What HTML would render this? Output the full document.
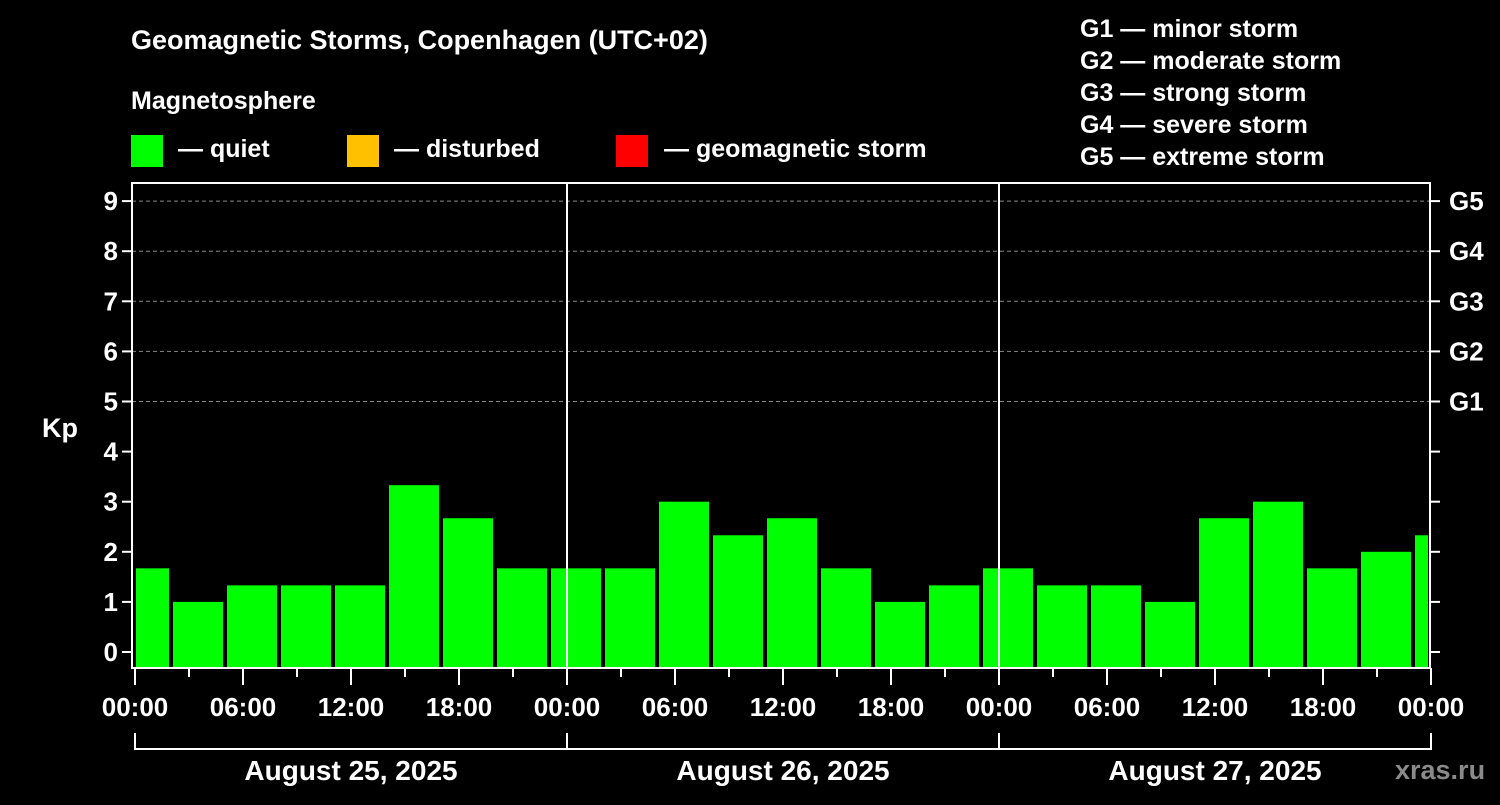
<!DOCTYPE html>
<html><head><meta charset="utf-8"><style>
html,body{margin:0;padding:0;background:#000;}
svg text{font-family:"Liberation Sans",sans-serif;font-weight:bold;fill:#fff;}
</style></head><body>
<svg id="chart" width="1500" height="800" xmlns="http://www.w3.org/2000/svg">
<rect width="1500" height="800" fill="#000"/>
<text x="131" y="49" font-size="27">Geomagnetic Storms, Copenhagen (UTC+02)</text>
<text x="131" y="109" font-size="25">Magnetosphere</text>
<g><rect x="131" y="135" width="32" height="32" fill="#00ff00"/><text x="178" y="157" font-size="25">— quiet</text></g>
<g><rect x="347" y="135" width="32" height="32" fill="#ffc000"/><text x="394" y="157" font-size="25">— disturbed</text></g>
<g><rect x="616" y="135" width="32" height="32" fill="#ff0000"/><text x="664" y="157" font-size="25">— geomagnetic storm</text></g>
<g font-size="25">
<text x="1080" y="37">G1 — minor storm</text>
<text x="1080" y="69">G2 — moderate storm</text>
<text x="1080" y="101">G3 — strong storm</text>
<text x="1080" y="133">G4 — severe storm</text>
<text x="1080" y="165">G5 — extreme storm</text>
</g>
<text x="42" y="437" font-size="27">Kp</text>
<text x="1395" y="779" font-size="27" fill="#888" style="fill:#8a8a8a">xras.ru</text>
<g id="plot"></g>
</svg>
<script>
const kpValues=[1.67,1,1.33,1.33,1.33,3.33,2.67,1.67,1.67,1.67,3,2.33,2.67,1.67,1,1.33,1.67,1.33,1.33,1,2.67,3,1.67,2,2.33];
const dayLabels=["August 25, 2025","August 26, 2025","August 27, 2025"];
const hourLabels=["00:00","06:00","12:00","18:00"];
const gLabels=["G1","G2","G3","G4","G5"];
const NS="http://www.w3.org/2000/svg";
const g=document.getElementById('plot');
const X0=135,HPX=18,Y0=652,KPX=50.1,L=132,R=1430,T=183,B=668;
const xh=h=>X0+h*HPX, yk=k=>Y0-k*KPX;
function mk(t,a){const e=document.createElementNS(NS,t);for(const k in a)e.setAttribute(k,a[k]);g.appendChild(e);return e;}
for(let k=5;k<=9;k++){const e=mk('line',{x1:L,x2:R,y1:yk(k),y2:yk(k),stroke:'#888','stroke-dasharray':'4,3','stroke-width':1});

}
kpValues.forEach((v,i)=>{let x1=xh(i*3-1)+2,x2=xh(i*3+2)-2;x1=Math.max(x1,X0+1);x2=Math.min(x2,R-2);
const e=mk('rect',{x:x1,y:yk(v),width:x2-x1,height:B-1-yk(v),fill:'#00ff00'});

});
for(let d=1;d<3;d++){const e=mk('line',{x1:xh(d*24),x2:xh(d*24),y1:T,y2:B,stroke:'#fff','stroke-width':2});

}
const fr=mk('path',{d:`M${L} ${T}H${R}V${B}H${L}Z`,fill:'none',stroke:'#fff','stroke-width':2});


for(let k=0;k<=9;k++){mk('line',{x1:L-10,x2:L,y1:yk(k),y2:yk(k),stroke:'#fff','stroke-width':2});
mk('line',{x1:R,x2:R+10,y1:yk(k),y2:yk(k),stroke:'#fff','stroke-width':2});
const t=mk('text',{x:118,y:yk(k)+9,'font-size':26,'text-anchor':'end'});t.textContent=k;


if(k>=5){const t2=mk('text',{x:1449,y:yk(k)+9,'font-size':26});t2.textContent=gLabels[k-5];

}}
for(let h=0;h<=72;h+=3){const major=h%6===0;mk('line',{x1:xh(h),x2:xh(h),y1:B,y2:B+(major?17:9),stroke:'#fff','stroke-width':2});
if(major){const t=mk('text',{x:xh(h),y:716,'font-size':26,'text-anchor':'middle'});t.textContent=hourLabels[(h/6)%4];

}}
mk('path',{d:`M${xh(0)} 733V749H${xh(72)}V733M${xh(24)} 733V749M${xh(48)} 733V749`,fill:'none',stroke:'#fff','stroke-width':2});
dayLabels.forEach((d,i)=>{const t=mk('text',{x:xh(i*24+12),y:780,'font-size':28,'text-anchor':'middle'});t.textContent=d;

});
</script>
</body></html>
